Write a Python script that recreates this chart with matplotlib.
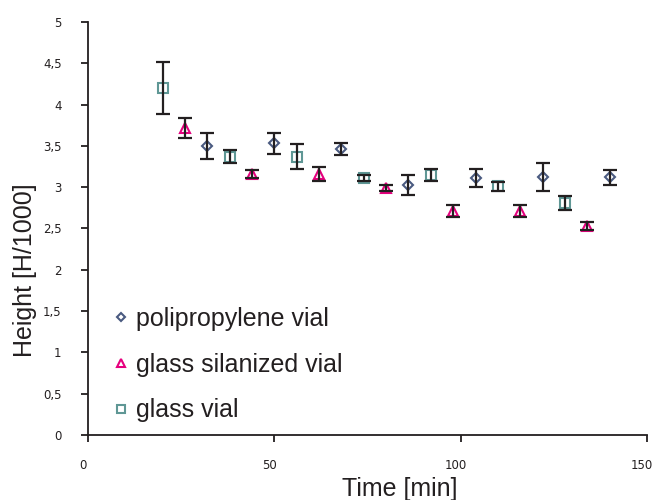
import numpy as np
import matplotlib
matplotlib.use("Agg")
import matplotlib.pyplot as plt
import matplotlib.transforms as mtransforms
from matplotlib.ticker import FuncFormatter

# polipropylene vial
pp_t = [32, 50, 68, 86, 104, 122, 140]
pp_h = [3.50, 3.53, 3.46, 3.03, 3.11, 3.12, 3.12]
pp_err = [0.16, 0.13, 0.07, 0.12, 0.11, 0.17, 0.09]

# glass silanized vial
gs_t = [26, 44, 62, 80, 98, 116, 134]
gs_h = [3.72, 3.16, 3.16, 2.99, 2.71, 2.71, 2.53]
gs_err = [0.12, 0.05, 0.09, 0.04, 0.07, 0.07, 0.05]

# glass vial
gv_t = [20, 38, 56, 74, 92, 110, 128]
gv_h = [4.20, 3.37, 3.37, 3.11, 3.15, 3.01, 2.81]
gv_err = [0.31, 0.08, 0.15, 0.04, 0.07, 0.05, 0.08]

plt.rcParams['font.family'] = ['Liberation Sans', 'DejaVu Sans']

fig = plt.figure(figsize=(6.53, 5), dpi=100)
ax = fig.add_axes([0.1348, 0.13, 0.856, 0.826])

series = [
    (pp_t, pp_h, pp_err, 'D', '#4a5a80', 5.5, 'polipropylene vial'),
    (gs_t, gs_h, gs_err, '^', '#e6007e', 7, 'glass silanized vial'),
    (gv_t, gv_h, gv_err, 's', '#5f9795', 7, 'glass vial'),
]
handles = []
for t, h, e, m, c, ms, lab in series:
    ax.errorbar(t, h, yerr=e, fmt='none', ecolor='#231f20', elinewidth=1.6,
                capsize=5, capthick=1.6, zorder=3)
    p, = ax.plot(t, h, ls='none', marker=m, ms=ms, mfc='white', mec=c,
                 mew=1.5, label=lab, zorder=2)
    handles.append(p)

ax.set_xlim(0, 150)
ax.set_ylim(0, 5)
ax.set_xticks([0, 50, 100, 150])
ax.set_yticks(np.arange(0, 5.01, 0.5))
ax.yaxis.set_major_formatter(FuncFormatter(lambda v, p: ('%g' % v).replace('.', ',')))

for s in ['top', 'right']:
    ax.spines[s].set_visible(False)
for s in ['left', 'bottom']:
    ax.spines[s].set_linewidth(1.3)
    ax.spines[s].set_color('#231f20')

ax.tick_params(axis='both', direction='out', length=5, width=1.3, color='#231f20',
               labelsize=8.5, labelcolor='#231f20')
ax.tick_params(axis='x', pad=12)
ax.tick_params(axis='y', pad=14)
shift = mtransforms.ScaledTranslation(-5 / 100, 0, fig.dpi_scale_trans)
for lbl in ax.get_xticklabels():
    lbl.set_family('DejaVu Sans')
    lbl.set_transform(lbl.get_transform() + shift)
for lbl in ax.get_yticklabels():
    lbl.set_family('DejaVu Sans')

ax.set_xlabel('Time [min]', fontsize=18, color='#231f20')
ax.set_ylabel('Height [H/1000]', fontsize=18, color='#231f20')
ax.xaxis.set_label_coords(0.558, -0.102)
ax.yaxis.set_label_coords(-0.092, 0.40)

leg = ax.legend(handles=handles, loc='upper left', bbox_to_anchor=(0.048, 0.31),
                frameon=False, fontsize=18, handlelength=0.5, handletextpad=0.35,
                labelspacing=0.87, borderpad=0, borderaxespad=0, markerscale=0.8)
for txt in leg.get_texts():
    txt.set_color('#231f20')

fig.savefig('out.png', dpi=100)
